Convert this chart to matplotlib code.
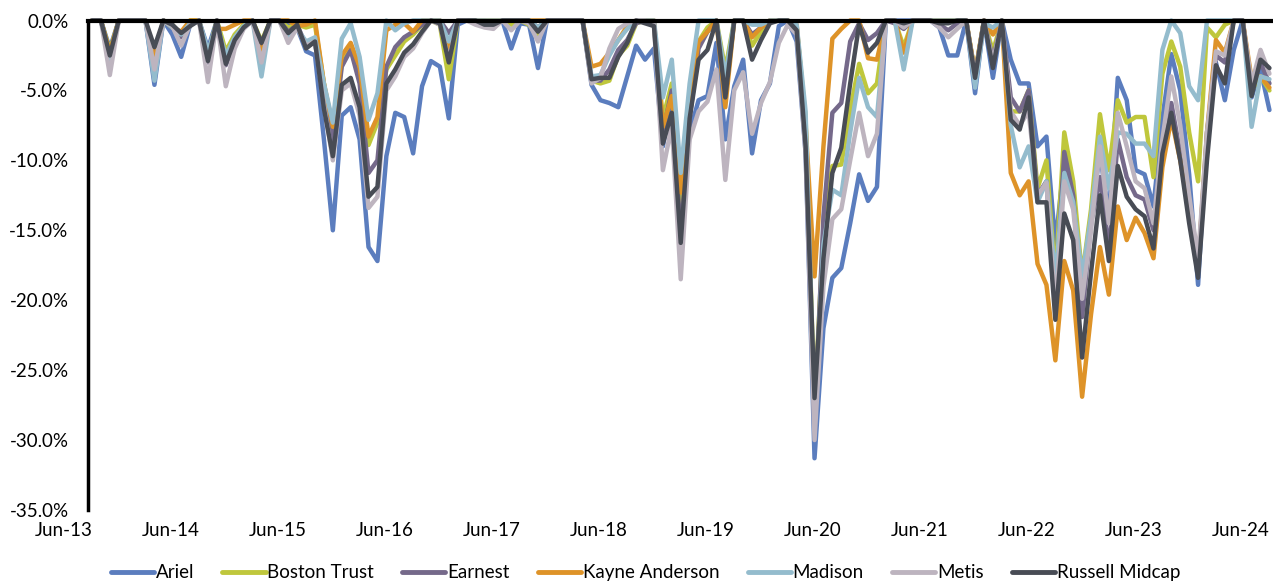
import numpy as np
import matplotlib
matplotlib.use("Agg")
import matplotlib.pyplot as plt

# ==========================================
# Data: monthly drawdowns (%), Jun-13 .. Jun-24
# ==========================================

ariel = [
    0, 0, -2.0, 0, 0, 0, 0, -4.6, 0, -1.0, -2.6, -0.3,
    0, -2.0, 0, -2.8, -1.5, -0.5, 0, -2.0, 0, 0, -0.3, -0.5,
    -2.2, -2.5, -8.5, -15.0, -6.8, -6.2, -8.5, -16.2, -17.2, -9.7, -6.6, -6.9,
    -9.5, -4.7, -2.9, -3.3, -7.0, -0.3, 0, 0, 0, -0.3, 0, -2.0,
    -0.2, -0.3, -3.4, 0, 0, 0, 0, 0, -4.6, -5.7, -5.9, -6.2,
    -4.0, -1.8, -2.8, -2.0, -9.0, -5.5, -15.5, -8.0, -5.7, -5.4, -1.6, -8.5,
    -4.7, -2.8, -9.5, -5.7, -4.5, -0.4, 0, -1.5, -9.5, -31.3, -22.0, -18.4,
    -17.7, -14.5, -11.0, -12.9, -11.9, 0, 0, 0, 0, 0, 0, -0.5,
    -2.5, -2.5, 0, -5.2, 0, -4.1, 0, -2.8, -4.5, -4.5, -9.0, -8.3,
    -16.0, -10.0, -13.0, -19.5, -14.0, -9.5, -14.0, -4.1, -5.7, -10.7, -11.0, -13.3,
    -7.0, -2.4, -5.0, -11.0, -18.9, -8.0, -3.0, -5.7, -2.1, 0, -5.5, -3.5, -6.4,
]

boston_trust = [
    0, 0, -2.2, 0, 0, 0, 0, -3.0, 0, -0.3, -1.0, 0,
    0, -2.5, 0, -2.2, -1.0, -0.3, 0, -1.5, 0, 0, -0.5, -0.3,
    -0.5, -0.3, -4.5, -8.5, -3.0, -2.1, -4.0, -8.9, -7.3, -3.5, -2.5, -1.5,
    -1.0, -0.3, 0, -0.3, -4.2, 0, 0, 0, 0, 0, 0, -0.3,
    0, -0.3, -1.2, 0, 0, 0, 0, 0, -4.3, -4.5, -4.3, -2.5,
    -1.8, -0.2, 0, -0.3, -7.0, -4.5, -13.5, -6.0, -1.5, -0.5, 0, -3.5,
    0, 0, -1.8, -0.8, 0, 0, 0, -0.5, -7.0, -27.5, -15.0, -10.4,
    -10.3, -6.4, -3.1, -5.2, -4.5, 0, 0, -1.9, 0, 0, 0, 0,
    0, 0, 0, -3.8, 0, -2.2, 0, -6.5, -6.5, -5.0, -12.0, -10.0,
    -18.5, -8.0, -11.5, -18.3, -13.5, -6.7, -10.7, -5.7, -7.3, -6.9, -6.9, -11.2,
    -3.8, -1.5, -3.3, -8.0, -11.5, -0.5, -1.2, -0.3, 0, 0, -5.0, -4.0, -5.0,
]

earnest = [
    0, 0, -2.5, 0, 0, 0, 0, -2.5, 0, -0.3, -1.2, -0.2,
    0, -3.0, 0, -3.2, -1.5, -0.5, 0, -1.8, 0, 0, -0.8, -0.3,
    -1.8, -1.6, -5.5, -8.8, -3.3, -2.1, -4.5, -10.9, -10.0, -3.3, -1.9, -1.2,
    -0.8, -0.3, 0, 0, -0.9, 0, 0, 0, 0, -0.2, 0, 0,
    0, 0, -0.5, 0, 0, 0, 0, 0, -4.3, -4.3, -3.5, -2.1,
    -1.4, -0.2, 0, -0.2, -8.0, -5.0, -15.5, -7.0, -2.0, -0.8, 0, -5.0,
    0, 0, -1.0, -0.5, 0, 0, 0, -0.5, -8.5, -29.0, -14.0, -6.6,
    -5.9, -1.5, -0.2, -1.4, -0.9, 0, -0.2, -0.6, 0, 0, 0, -0.3,
    -0.7, -0.2, 0, -3.9, 0, -2.8, 0, -5.5, -6.5, -5.0, -12.5, -11.5,
    -20.0, -9.4, -12.5, -21.2, -14.5, -11.2, -16.5, -8.5, -11.2, -12.5, -12.8, -15.0,
    -9.0, -5.9, -9.5, -14.0, -17.5, -8.5, -2.5, -3.0, 0, 0, -4.8, -3.0, -4.5,
]

kayne_anderson = [
    0, 0, -2.3, 0, 0, 0, 0, -2.9, 0, -0.5, -0.8, 0,
    0, -2.5, -0.6, -0.6, -0.3, 0, 0, -2.5, 0, 0, 0, -0.4,
    -0.3, 0, -4.5, -7.6, -2.5, -1.6, -3.3, -8.3, -6.9, -0.7, -0.3, -0.2,
    -0.8, 0, 0, 0, -2.0, 0, 0, 0, 0, 0, 0, 0,
    0, 0, 0, 0, 0, 0, 0, 0, -3.3, -3.1, -2.3, -1.4,
    -0.4, 0, 0, 0, -7.6, -5.4, -12.3, -5.5, -1.5, -0.8, 0, -6.2,
    0, 0, -1.2, -0.5, 0, 0, 0, -0.3, -7.5, -18.3, -9.0, -1.3,
    -0.6, 0, 0, -2.7, -2.8, 0, 0, -2.3, 0, 0, 0, 0,
    0, 0, 0, -3.8, 0, -1.0, 0, -10.9, -12.5, -11.5, -17.4, -18.9,
    -24.3, -17.2, -19.3, -26.9, -21.0, -16.2, -19.6, -13.3, -15.7, -14.1, -15.2, -17.0,
    -10.5, -7.0, -10.0, -13.5, -17.5, -8.0, -1.4, -2.3, 0, 0, -4.2, -4.0, -4.8,
]

madison = [
    0, 0, -2.8, 0, 0, 0, 0, -4.3, 0, -0.5, -1.0, -0.2,
    0, -2.2, -0.3, -2.5, -1.2, -0.4, 0, -4.0, 0, 0, -1.3, -0.6,
    -1.5, -1.2, -4.5, -7.3, -1.3, -0.2, -2.6, -7.1, -5.2, 0, -0.7, -0.2,
    0, 0, 0, 0, -1.5, 0, 0, 0, 0, 0, 0, 0,
    0, 0, -0.5, 0, 0, 0, 0, 0, -4.0, -3.9, -2.5, -1.4,
    -0.6, 0, 0, 0, -5.5, -2.8, -10.9, -4.5, 0, 0, 0, -4.0,
    0, 0, -0.3, -0.3, 0, 0, 0, -0.3, -6.5, -28.5, -16.0, -12.1,
    -12.5, -8.0, -4.1, -6.2, -6.9, 0, 0, -3.5, 0, 0, 0, 0,
    0, 0, 0, -4.8, -0.2, -0.5, 0, -7.5, -10.5, -9.0, -13.0, -11.5,
    -18.5, -10.9, -13.0, -18.3, -14.0, -8.3, -12.0, -8.0, -8.1, -8.8, -8.8, -9.7,
    -2.1, 0, -0.9, -4.7, -5.7, 0, 0, 0, 0, 0, -7.6, -4.0, -4.2,
]

metis = [
    0, 0, -3.9, 0, 0, 0, 0, -3.5, 0, -0.4, -1.8, -0.3,
    0, -4.4, 0, -4.7, -2.0, -0.6, 0, -3.0, 0, 0, -1.6, -0.5,
    -1.8, -1.5, -6.0, -10.0, -5.0, -4.5, -6.8, -13.4, -12.6, -5.0, -4.0, -2.6,
    -2.0, -0.9, 0, -0.3, -2.8, 0, 0, -0.3, -0.5, -0.6, 0, -0.7,
    0, -0.2, -1.5, 0, 0, 0, 0, 0, -4.5, -4.1, -2.0, -0.6,
    -0.2, 0, 0, -0.3, -10.7, -7.5, -18.5, -8.5, -6.5, -5.8, -3.5, -11.4,
    -5.0, -3.7, -8.1, -5.9, -4.4, -1.6, -0.3, -1.0, -9.5, -30.0, -19.0, -14.2,
    -13.5, -10.0, -6.6, -9.7, -8.1, 0, 0, -0.5, 0, 0, 0, -0.5,
    -1.2, -0.6, 0, -4.0, 0, -3.0, 0, -6.5, -7.5, -6.5, -12.5, -11.6,
    -20.5, -11.5, -13.5, -19.9, -15.0, -9.0, -14.5, -6.6, -9.0, -11.5, -12.0, -14.5,
    -8.5, -4.0, -7.5, -12.5, -17.0, -8.0, -2.2, -2.5, 0, 0, -4.5, -2.1, -3.8,
]

russell_midcap = [
    0, 0, -2.5, 0, 0, 0, 0, -1.9, 0, -0.3, -0.9, -0.4,
    0, -2.9, 0, -3.1, -1.4, -0.5, 0, -1.6, 0, 0, -0.9, -0.3,
    -2.0, -1.5, -6.3, -9.7, -4.6, -4.1, -6.2, -12.6, -11.9, -4.5, -3.5, -2.3,
    -1.7, -0.8, 0, -0.2, -3.0, 0, 0, 0, -0.3, -0.3, 0, 0,
    0, 0, -0.8, 0, 0, 0, 0, 0, -4.2, -4.1, -4.1, -2.6,
    -1.6, 0, -0.2, -0.4, -8.8, -6.6, -15.9, -7.0, -2.8, -2.1, 0, -5.5,
    0, 0, -2.8, -1.4, -0.2, 0, 0, -0.7, -9.0, -27.0, -17.0, -10.9,
    -9.1, -4.5, -0.3, -2.3, -1.6, 0, 0, -0.2, 0, 0, 0, -0.2,
    -0.2, 0, 0, -4.1, 0, -3.4, 0, -7.1, -7.8, -5.5, -13.0, -13.0,
    -21.4, -13.8, -15.7, -24.1, -18.0, -12.5, -17.2, -10.4, -12.6, -13.5, -14.0, -16.3,
    -9.5, -6.6, -10.0, -14.5, -18.4, -10.0, -3.2, -4.5, 0, 0, -5.4, -2.8, -3.4,
]

series_names = ["Ariel", "Boston Trust", "Earnest", "Kayne Anderson",
                "Madison", "Metis", "Russell Midcap"]
series_values = [ariel, boston_trust, earnest, kayne_anderson,
                 madison, metis, russell_midcap]
colors = ["#5B7DBE", "#BFC73C", "#75698A", "#DE9328",
          "#94BCCD", "#BDB4BF", "#484C55"]

x_labels = ["Jun-13", "Jun-14", "Jun-15", "Jun-16", "Jun-17", "Jun-18",
            "Jun-19", "Jun-20", "Jun-21", "Jun-22", "Jun-23", "Jun-24"]

# ==========================================
# Plot
# ==========================================

plt.rcParams["font.family"] = ["Lato", "DejaVu Sans"]

fig = plt.figure(figsize=(12.73, 5.84), dpi=100)
ax = fig.add_axes([88 / 1273, 1 - 510 / 584, 1 - 88 / 1273, (510 - 20.5) / 584])

months = np.arange(len(russell_midcap))
for name, vals, c in zip(series_names, series_values, colors):
    ax.plot(months, vals, color=c, lw=3.2, label=name,
            solid_joinstyle="round", solid_capstyle="round", clip_on=False)

# month spacing ~8.92 px, first point at x=92 px
ax.set_xlim(-4 / 8.92, (1273 - 92) / 8.92)
ax.set_ylim(-35, 0)

yt = np.arange(-35, 1, 5)
ax.set_yticks(yt)
ax.set_yticklabels([f"{v:.1f}%" if v != 0 else "0.0%" for v in yt])
ax.tick_params(axis="y", length=0, pad=14, labelsize=13.5)
ax.set_xticks([])

for s in ["right", "bottom"]:
    ax.spines[s].set_visible(False)
ax.spines["left"].set_linewidth(2.5)
ax.spines["top"].set_linewidth(3.0)
ax.spines["top"].set_zorder(5)

for k, lab in enumerate(x_labels):
    ax.text(12 * k - 3.2, -0.041, lab, transform=ax.get_xaxis_transform(),
            ha="center", va="center", fontsize=13.5, clip_on=False)

leg = fig.legend(loc="center", bbox_to_anchor=(0.507, 0.019), ncol=7, frameon=False,
                 fontsize=13.5, handlelength=2.3, handletextpad=0.1,
                 columnspacing=1.5)
for h in leg.get_lines():
    h.set_linewidth(3.5)

fig.savefig("out.png", dpi=100)
